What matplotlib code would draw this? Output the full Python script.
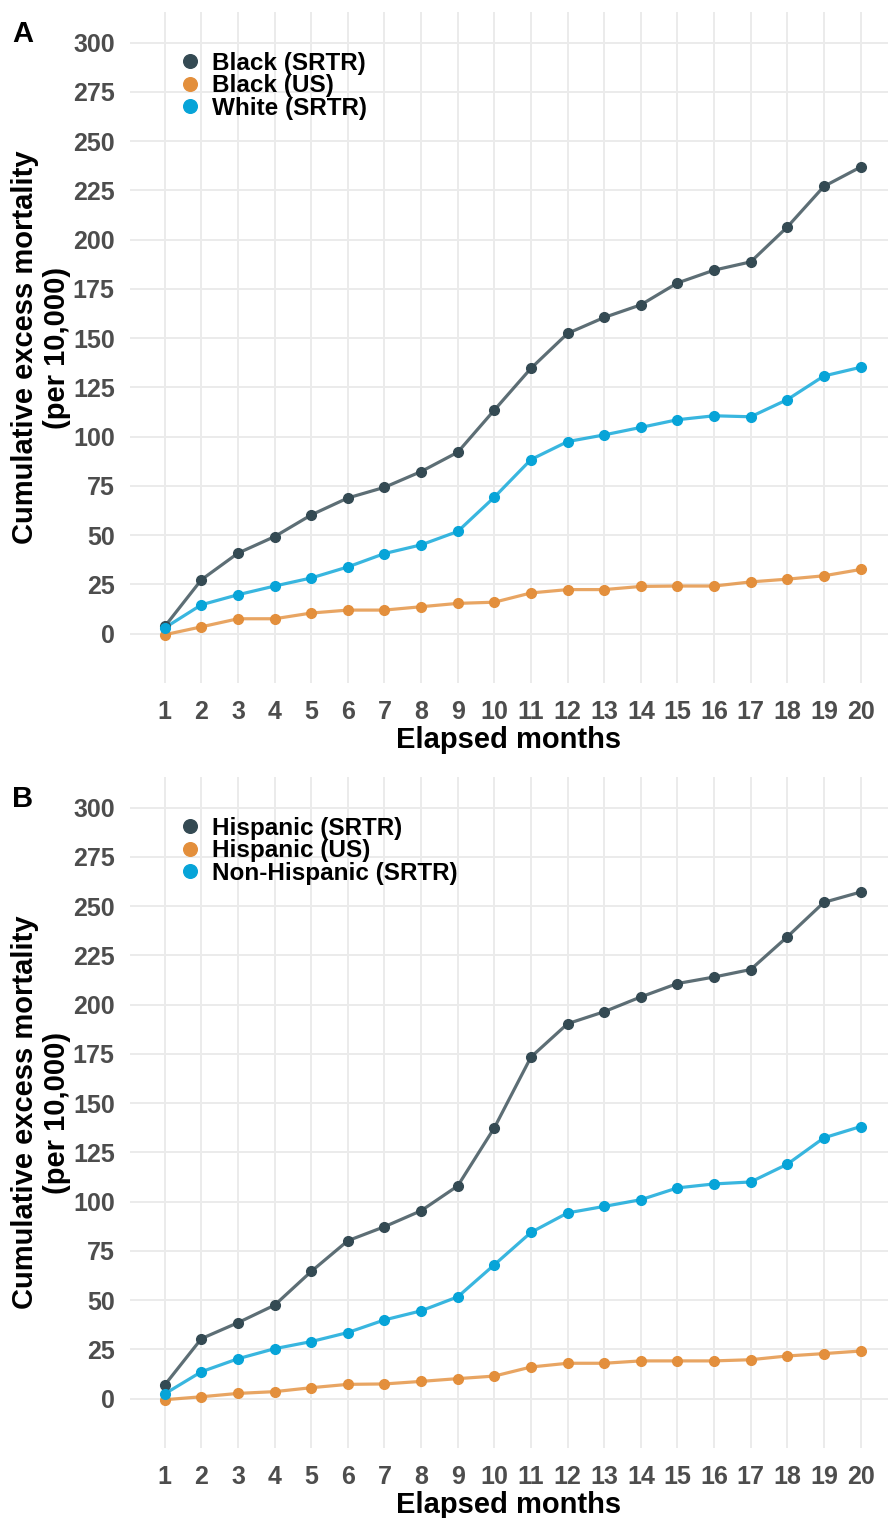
import matplotlib
matplotlib.use("Agg")
import matplotlib.pyplot as plt

plt.rcParams['font.family'] = ['Liberation Sans', 'DejaVu Sans']

months = list(range(1, 21))

# panel A
black_srtr = [3.7, 27.4, 40.9, 49.3, 60.3, 68.9, 74.3, 82.3, 92.1, 113.5,
              134.7, 152.4, 160.5, 166.9, 178.0, 184.5, 188.7, 206.4, 227.0, 236.8]
black_us = [-0.5, 3.5, 7.6, 7.6, 10.5, 12.0, 12.0, 13.7, 15.4, 16.0,
            20.7, 22.4, 22.4, 24.0, 24.2, 24.2, 26.3, 27.7, 29.4, 32.6]
white_srtr = [3.0, 14.7, 19.8, 24.2, 28.3, 33.9, 40.7, 45.1, 51.9, 69.3,
              88.4, 97.5, 100.9, 104.7, 108.6, 110.6, 110.1, 118.8, 130.8, 135.2]

# panel B
hisp_srtr = [7.0, 30.5, 38.6, 47.5, 64.6, 80.2, 87.3, 95.4, 108.0, 137.5,
             173.4, 190.3, 196.4, 203.9, 210.7, 214.0, 217.8, 234.4, 251.9, 257.1]
hisp_us = [-0.5, 1.0, 2.7, 3.6, 5.6, 7.3, 7.5, 8.8, 10.2, 11.5,
           16.1, 18.0, 18.0, 19.2, 19.2, 19.2, 19.8, 21.7, 22.9, 24.2]
nonhisp_srtr = [2.5, 13.7, 20.3, 25.4, 29.0, 33.6, 40.0, 44.6, 51.7, 68.0,
                84.4, 94.3, 97.6, 101.0, 107.0, 109.0, 110.0, 119.0, 132.4, 138.1]

labels_a = ["Black (SRTR)", "Black (US)", "White (SRTR)"]
labels_b = ["Hispanic (SRTR)", "Hispanic (US)", "Non-Hispanic (SRTR)"]
colors = ["#344A53", "#E38F3C", "#07A4D8"]
yticks = list(range(0, 301, 25))

W, H = 888, 1518
fig = plt.figure(figsize=(W / 100, H / 100), dpi=100)


def panel(top_px, bottom_px, series, labels, letter):
    ax = fig.add_axes([130 / W, 1 - bottom_px / H, 1 - 130 / W, (bottom_px - top_px) / H])
    for ys, lab, c in zip(series, labels, colors):
        ax.plot(months, ys, color=c, lw=2.3, alpha=0.8, zorder=2)
        ax.plot(months, ys, 'o', color=c, ms=7, label=lab, zorder=3)
    ax.set_xlim(0.05, 20.75)
    ax.set_ylim(-25, 315.5)
    ax.set_xticks(months)
    ax.set_yticks(yticks)
    ax.grid(True, color="#EBEBEB", lw=1.4)
    ax.set_axisbelow(True)
    for s in ax.spines.values():
        s.set_visible(False)
    ax.tick_params(length=0, labelsize=18, labelcolor="#4D4D4D")
    ax.tick_params(axis='y', pad=11)
    ax.tick_params(axis='x', pad=12)
    for t in ax.get_xticklabels() + ax.get_yticklabels():
        t.set_fontweight('bold')
    ax.set_xlabel("Elapsed months", fontsize=21, fontweight='bold', labelpad=2)
    ax.set_ylabel("Cumulative excess mortality\n(per 10,000)", fontsize=21,
                  fontweight='bold', labelpad=1.5, linespacing=1.15)
    ax.legend(loc='upper left', bbox_to_anchor=(178 / W, 1 - (top_px + 40) / H),
              bbox_transform=fig.transFigure, frameon=False, borderpad=0,
              borderaxespad=0, handlelength=1.0, handletextpad=0.4,
              labelspacing=-0.03, markerscale=1.4,
              prop={'size': 17.5, 'weight': 'bold'})
    fig.text(12 / W, 1 - (top_px + 22) / H, letter, fontsize=21, fontweight='bold',
             va='center', ha='left')
    return ax


panel(12, 683, [black_srtr, black_us, white_srtr], labels_a, "A")
panel(777, 1448, [hisp_srtr, hisp_us, nonhisp_srtr], labels_b, "B")

fig.savefig("out.png", dpi=100, facecolor="white")
